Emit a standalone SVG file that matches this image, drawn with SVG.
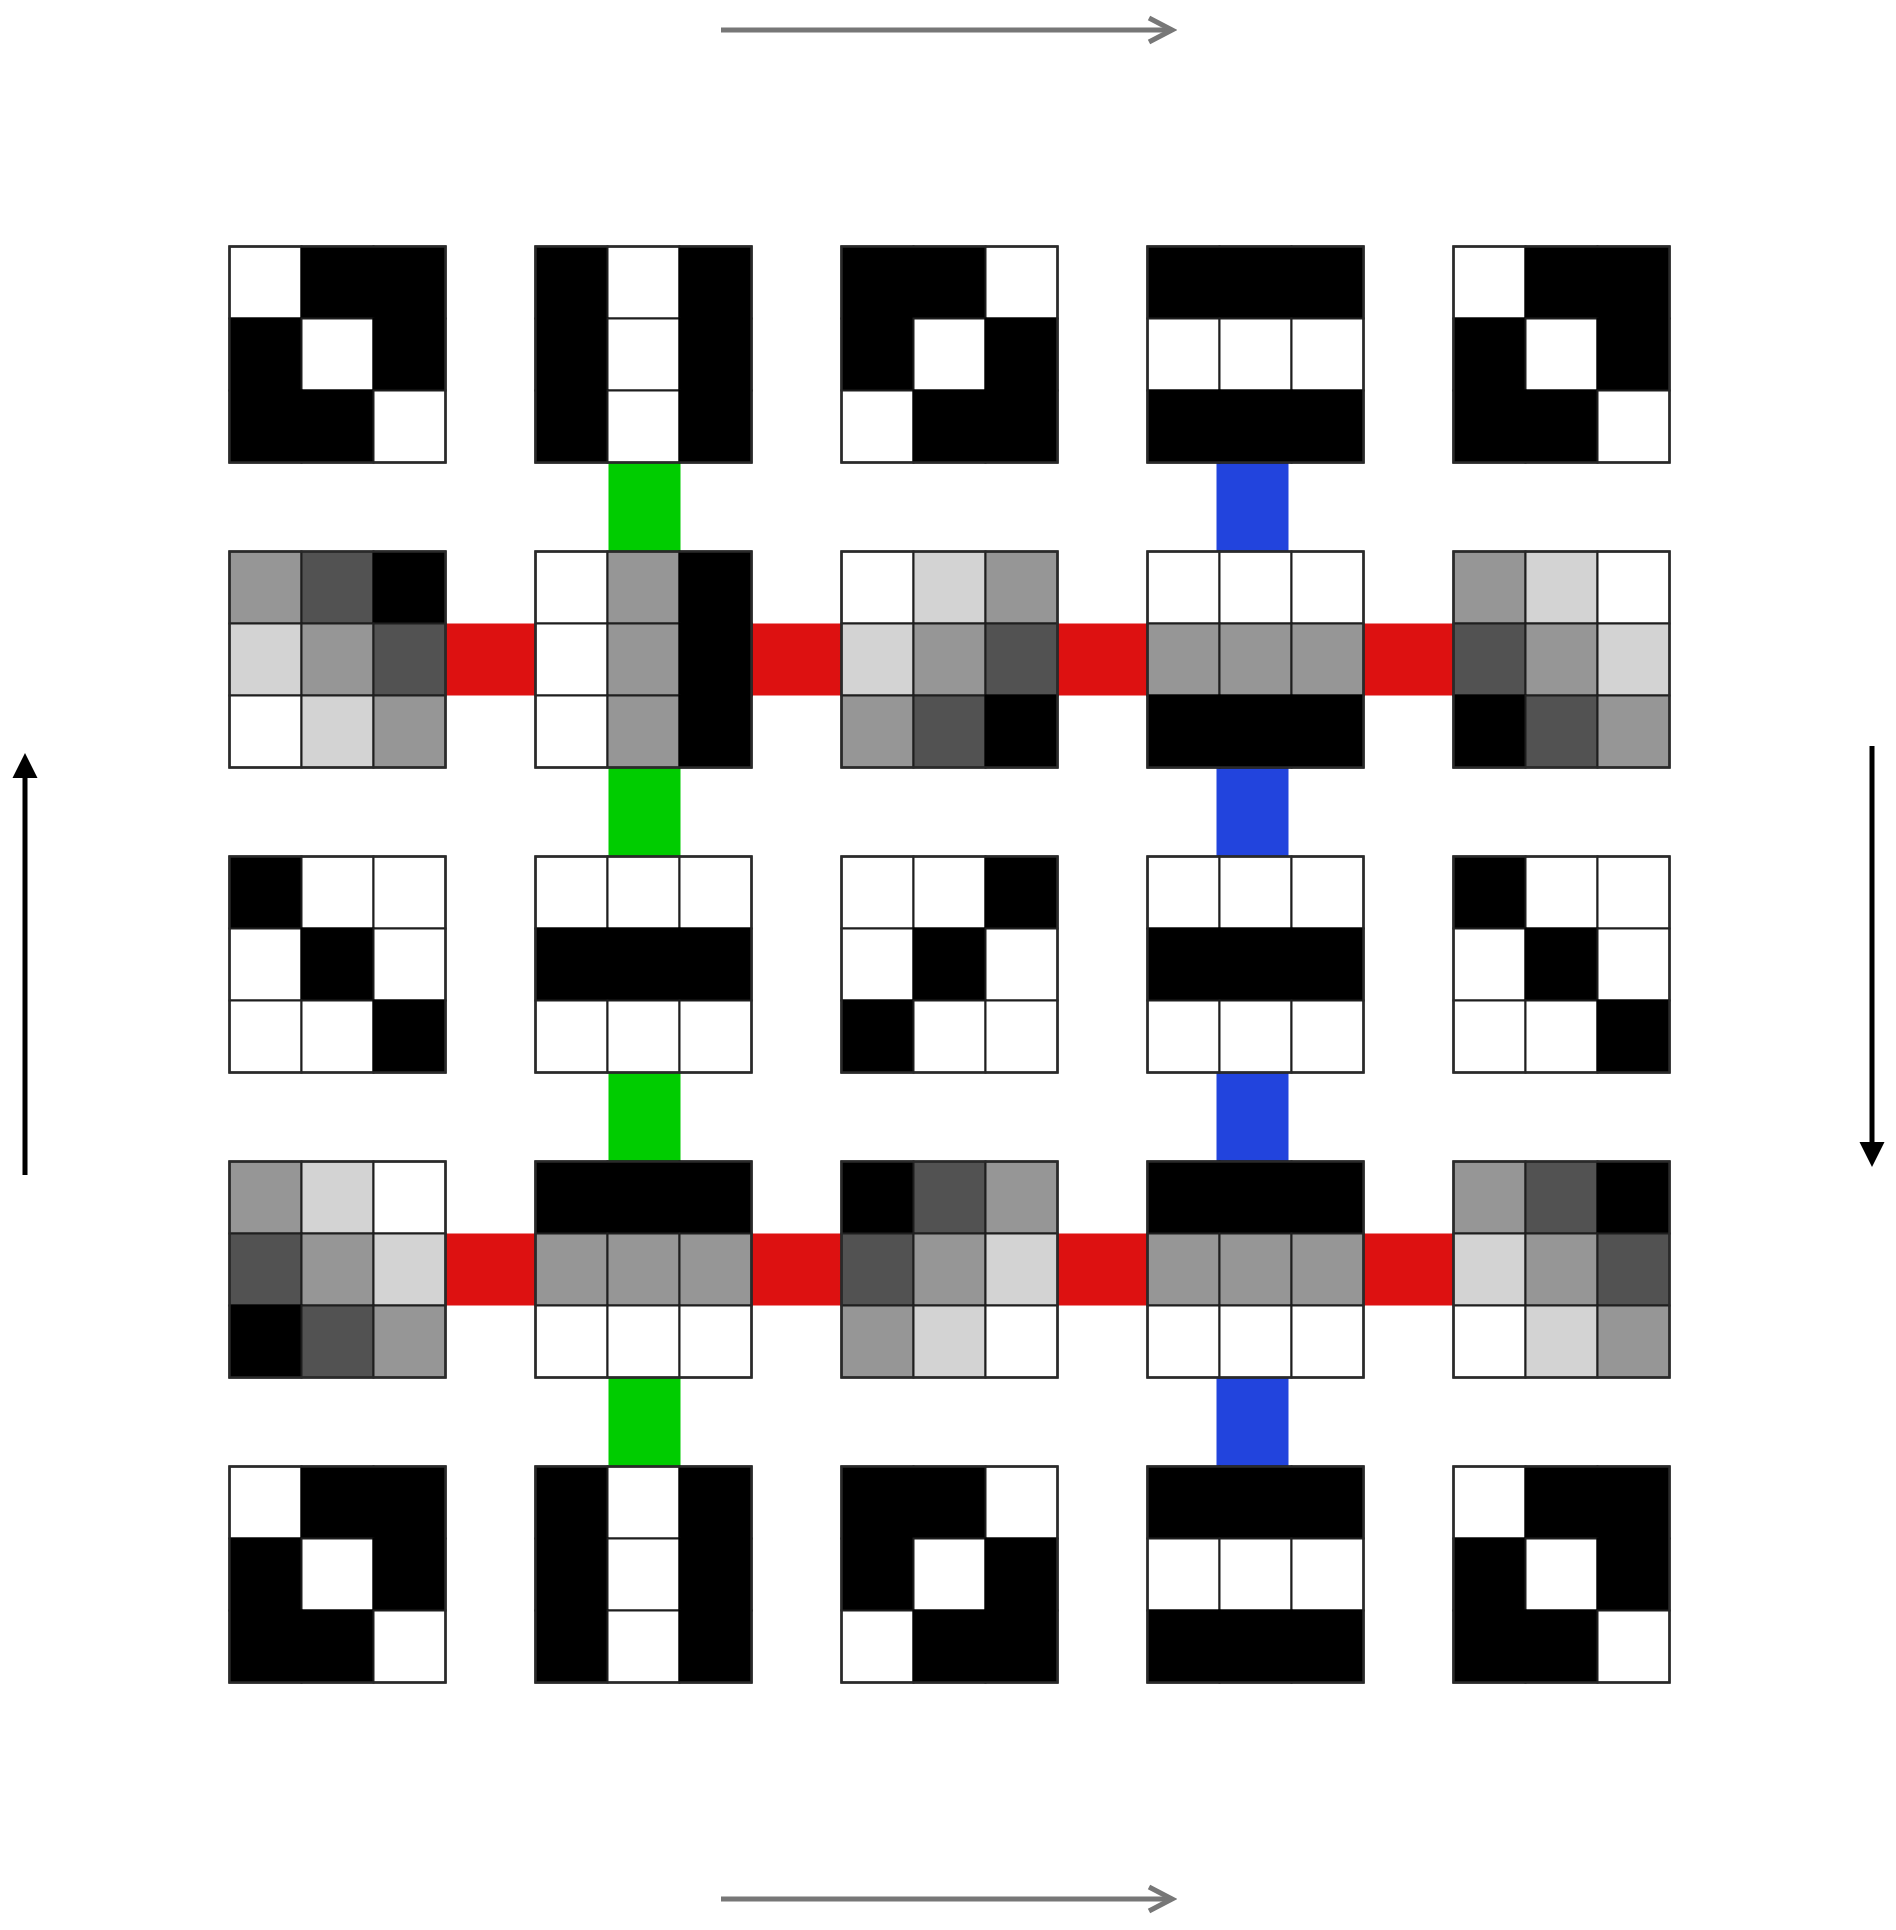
<svg xmlns="http://www.w3.org/2000/svg" xmlns:xlink="http://www.w3.org/1999/xlink" width="1896" height="1930" viewBox="0 0 1896 1930">
<style>
.c{stroke:#1e1e1e;stroke-width:2}
.k{fill:#000;stroke:#000}.w{fill:#fff}.d{fill:#525252}.m{fill:#969696}.l{fill:#d3d3d3}
.frame{fill:none;stroke:#2a2a2a;stroke-width:2.5}
.green{fill:#00cc00}.blue{fill:#2244dd}.red{fill:#dd1111}
.garrow{stroke:#777;stroke-width:5;fill:none}
.karrow{stroke:#000;stroke-width:5;fill:none}
</style>
<defs>
<marker id="chev" markerUnits="userSpaceOnUse" markerWidth="32" markerHeight="32" viewBox="0 0 32 32" refX="27" refY="16" orient="auto">
<path d="M4,4 L27,16 L4,28" fill="none" stroke="#777" stroke-width="5"/>
</marker>
<marker id="tri" markerUnits="userSpaceOnUse" markerWidth="25" markerHeight="26" viewBox="0 0 25 26" refX="0" refY="13" orient="auto">
<path d="M0,0.5 L25,13 L0,25.5 z" fill="#000"/>
</marker>
<g id="pA"><rect class="c w" x="0" y="0" width="72" height="72"/><rect class="c k" x="72" y="0" width="72" height="72"/><rect class="c k" x="144" y="0" width="72" height="72"/><rect class="c k" x="0" y="72" width="72" height="72"/><rect class="c w" x="72" y="72" width="72" height="72"/><rect class="c k" x="144" y="72" width="72" height="72"/><rect class="c k" x="0" y="144" width="72" height="72"/><rect class="c k" x="72" y="144" width="72" height="72"/><rect class="c w" x="144" y="144" width="72" height="72"/><rect class="frame" x="0" y="0" width="216" height="216"/></g>
<g id="pB"><rect class="c k" x="0" y="0" width="72" height="72"/><rect class="c w" x="72" y="0" width="72" height="72"/><rect class="c k" x="144" y="0" width="72" height="72"/><rect class="c k" x="0" y="72" width="72" height="72"/><rect class="c w" x="72" y="72" width="72" height="72"/><rect class="c k" x="144" y="72" width="72" height="72"/><rect class="c k" x="0" y="144" width="72" height="72"/><rect class="c w" x="72" y="144" width="72" height="72"/><rect class="c k" x="144" y="144" width="72" height="72"/><rect class="frame" x="0" y="0" width="216" height="216"/></g>
<g id="pC"><rect class="c k" x="0" y="0" width="72" height="72"/><rect class="c k" x="72" y="0" width="72" height="72"/><rect class="c w" x="144" y="0" width="72" height="72"/><rect class="c k" x="0" y="72" width="72" height="72"/><rect class="c w" x="72" y="72" width="72" height="72"/><rect class="c k" x="144" y="72" width="72" height="72"/><rect class="c w" x="0" y="144" width="72" height="72"/><rect class="c k" x="72" y="144" width="72" height="72"/><rect class="c k" x="144" y="144" width="72" height="72"/><rect class="frame" x="0" y="0" width="216" height="216"/></g>
<g id="pD"><rect class="c k" x="0" y="0" width="72" height="72"/><rect class="c k" x="72" y="0" width="72" height="72"/><rect class="c k" x="144" y="0" width="72" height="72"/><rect class="c w" x="0" y="72" width="72" height="72"/><rect class="c w" x="72" y="72" width="72" height="72"/><rect class="c w" x="144" y="72" width="72" height="72"/><rect class="c k" x="0" y="144" width="72" height="72"/><rect class="c k" x="72" y="144" width="72" height="72"/><rect class="c k" x="144" y="144" width="72" height="72"/><rect class="frame" x="0" y="0" width="216" height="216"/></g>
<g id="g1"><rect class="c m" x="0" y="0" width="72" height="72"/><rect class="c d" x="72" y="0" width="72" height="72"/><rect class="c k" x="144" y="0" width="72" height="72"/><rect class="c l" x="0" y="72" width="72" height="72"/><rect class="c m" x="72" y="72" width="72" height="72"/><rect class="c d" x="144" y="72" width="72" height="72"/><rect class="c w" x="0" y="144" width="72" height="72"/><rect class="c l" x="72" y="144" width="72" height="72"/><rect class="c m" x="144" y="144" width="72" height="72"/><rect class="frame" x="0" y="0" width="216" height="216"/></g>
<g id="g2"><rect class="c w" x="0" y="0" width="72" height="72"/><rect class="c m" x="72" y="0" width="72" height="72"/><rect class="c k" x="144" y="0" width="72" height="72"/><rect class="c w" x="0" y="72" width="72" height="72"/><rect class="c m" x="72" y="72" width="72" height="72"/><rect class="c k" x="144" y="72" width="72" height="72"/><rect class="c w" x="0" y="144" width="72" height="72"/><rect class="c m" x="72" y="144" width="72" height="72"/><rect class="c k" x="144" y="144" width="72" height="72"/><rect class="frame" x="0" y="0" width="216" height="216"/></g>
<g id="g3"><rect class="c w" x="0" y="0" width="72" height="72"/><rect class="c l" x="72" y="0" width="72" height="72"/><rect class="c m" x="144" y="0" width="72" height="72"/><rect class="c l" x="0" y="72" width="72" height="72"/><rect class="c m" x="72" y="72" width="72" height="72"/><rect class="c d" x="144" y="72" width="72" height="72"/><rect class="c m" x="0" y="144" width="72" height="72"/><rect class="c d" x="72" y="144" width="72" height="72"/><rect class="c k" x="144" y="144" width="72" height="72"/><rect class="frame" x="0" y="0" width="216" height="216"/></g>
<g id="g4"><rect class="c w" x="0" y="0" width="72" height="72"/><rect class="c w" x="72" y="0" width="72" height="72"/><rect class="c w" x="144" y="0" width="72" height="72"/><rect class="c m" x="0" y="72" width="72" height="72"/><rect class="c m" x="72" y="72" width="72" height="72"/><rect class="c m" x="144" y="72" width="72" height="72"/><rect class="c k" x="0" y="144" width="72" height="72"/><rect class="c k" x="72" y="144" width="72" height="72"/><rect class="c k" x="144" y="144" width="72" height="72"/><rect class="frame" x="0" y="0" width="216" height="216"/></g>
<g id="g5"><rect class="c m" x="0" y="0" width="72" height="72"/><rect class="c l" x="72" y="0" width="72" height="72"/><rect class="c w" x="144" y="0" width="72" height="72"/><rect class="c d" x="0" y="72" width="72" height="72"/><rect class="c m" x="72" y="72" width="72" height="72"/><rect class="c l" x="144" y="72" width="72" height="72"/><rect class="c k" x="0" y="144" width="72" height="72"/><rect class="c d" x="72" y="144" width="72" height="72"/><rect class="c m" x="144" y="144" width="72" height="72"/><rect class="frame" x="0" y="0" width="216" height="216"/></g>
<g id="g6"><rect class="c k" x="0" y="0" width="72" height="72"/><rect class="c k" x="72" y="0" width="72" height="72"/><rect class="c k" x="144" y="0" width="72" height="72"/><rect class="c m" x="0" y="72" width="72" height="72"/><rect class="c m" x="72" y="72" width="72" height="72"/><rect class="c m" x="144" y="72" width="72" height="72"/><rect class="c w" x="0" y="144" width="72" height="72"/><rect class="c w" x="72" y="144" width="72" height="72"/><rect class="c w" x="144" y="144" width="72" height="72"/><rect class="frame" x="0" y="0" width="216" height="216"/></g>
<g id="g7"><rect class="c k" x="0" y="0" width="72" height="72"/><rect class="c d" x="72" y="0" width="72" height="72"/><rect class="c m" x="144" y="0" width="72" height="72"/><rect class="c d" x="0" y="72" width="72" height="72"/><rect class="c m" x="72" y="72" width="72" height="72"/><rect class="c l" x="144" y="72" width="72" height="72"/><rect class="c m" x="0" y="144" width="72" height="72"/><rect class="c l" x="72" y="144" width="72" height="72"/><rect class="c w" x="144" y="144" width="72" height="72"/><rect class="frame" x="0" y="0" width="216" height="216"/></g>
<g id="pI"><rect class="c k" x="0" y="0" width="72" height="72"/><rect class="c w" x="72" y="0" width="72" height="72"/><rect class="c w" x="144" y="0" width="72" height="72"/><rect class="c w" x="0" y="72" width="72" height="72"/><rect class="c k" x="72" y="72" width="72" height="72"/><rect class="c w" x="144" y="72" width="72" height="72"/><rect class="c w" x="0" y="144" width="72" height="72"/><rect class="c w" x="72" y="144" width="72" height="72"/><rect class="c k" x="144" y="144" width="72" height="72"/><rect class="frame" x="0" y="0" width="216" height="216"/></g>
<g id="pH"><rect class="c w" x="0" y="0" width="72" height="72"/><rect class="c w" x="72" y="0" width="72" height="72"/><rect class="c w" x="144" y="0" width="72" height="72"/><rect class="c k" x="0" y="72" width="72" height="72"/><rect class="c k" x="72" y="72" width="72" height="72"/><rect class="c k" x="144" y="72" width="72" height="72"/><rect class="c w" x="0" y="144" width="72" height="72"/><rect class="c w" x="72" y="144" width="72" height="72"/><rect class="c w" x="144" y="144" width="72" height="72"/><rect class="frame" x="0" y="0" width="216" height="216"/></g>
<g id="pJ"><rect class="c w" x="0" y="0" width="72" height="72"/><rect class="c w" x="72" y="0" width="72" height="72"/><rect class="c k" x="144" y="0" width="72" height="72"/><rect class="c w" x="0" y="72" width="72" height="72"/><rect class="c k" x="72" y="72" width="72" height="72"/><rect class="c w" x="144" y="72" width="72" height="72"/><rect class="c k" x="0" y="144" width="72" height="72"/><rect class="c w" x="72" y="144" width="72" height="72"/><rect class="c w" x="144" y="144" width="72" height="72"/><rect class="frame" x="0" y="0" width="216" height="216"/></g>
</defs>
<rect x="0" y="0" width="1896" height="1930" fill="#fff"/>

<g id="connectors">
<rect class="green" x="608.5" y="462.5" width="72" height="90"/>
<rect class="green" x="608.5" y="767.5" width="72" height="90"/>
<rect class="green" x="608.5" y="1072.5" width="72" height="90"/>
<rect class="green" x="608.5" y="1377.5" width="72" height="90"/>
<rect class="blue" x="1216.5" y="462.5" width="72" height="90"/>
<rect class="blue" x="1216.5" y="767.5" width="72" height="90"/>
<rect class="blue" x="1216.5" y="1072.5" width="72" height="90"/>
<rect class="blue" x="1216.5" y="1377.5" width="72" height="90"/>
<rect class="red" x="445" y="623.5" width="92" height="72"/>
<rect class="red" x="751" y="623.5" width="92" height="72"/>
<rect class="red" x="1057" y="623.5" width="92" height="72"/>
<rect class="red" x="1363" y="623.5" width="92" height="72"/>
<rect class="red" x="445" y="1233.5" width="92" height="72"/>
<rect class="red" x="751" y="1233.5" width="92" height="72"/>
<rect class="red" x="1057" y="1233.5" width="92" height="72"/>
<rect class="red" x="1363" y="1233.5" width="92" height="72"/>
</g>

<g id="arrows">
<line class="garrow" x1="721" y1="30" x2="1172" y2="30" marker-end="url(#chev)"/>
<line class="garrow" x1="721" y1="1899" x2="1172" y2="1899" marker-end="url(#chev)"/>
<line class="karrow" x1="25" y1="1175" x2="25" y2="778" marker-end="url(#tri)"/>
<line class="karrow" x1="1872" y1="746" x2="1872" y2="1142" marker-end="url(#tri)"/>
</g>

<g id="tile-0-0" transform="translate(229.5,246.5)"><use xlink:href="#pA" href="#pA"/></g>
<g id="tile-0-1" transform="translate(535.5,246.5)"><use xlink:href="#pB" href="#pB"/></g>
<g id="tile-0-2" transform="translate(841.5,246.5)"><use xlink:href="#pC" href="#pC"/></g>
<g id="tile-0-3" transform="translate(1147.5,246.5)"><use xlink:href="#pD" href="#pD"/></g>
<g id="tile-0-4" transform="translate(1453.5,246.5)"><use xlink:href="#pA" href="#pA"/></g>

<g id="tile-1-0" transform="translate(229.5,551.5)"><use xlink:href="#g1" href="#g1"/></g>
<g id="tile-1-1" transform="translate(535.5,551.5)"><use xlink:href="#g2" href="#g2"/></g>
<g id="tile-1-2" transform="translate(841.5,551.5)"><use xlink:href="#g3" href="#g3"/></g>
<g id="tile-1-3" transform="translate(1147.5,551.5)"><use xlink:href="#g4" href="#g4"/></g>
<g id="tile-1-4" transform="translate(1453.5,551.5)"><use xlink:href="#g5" href="#g5"/></g>

<g id="tile-2-0" transform="translate(229.5,856.5)"><use xlink:href="#pI" href="#pI"/></g>
<g id="tile-2-1" transform="translate(535.5,856.5)"><use xlink:href="#pH" href="#pH"/></g>
<g id="tile-2-2" transform="translate(841.5,856.5)"><use xlink:href="#pJ" href="#pJ"/></g>
<g id="tile-2-3" transform="translate(1147.5,856.5)"><use xlink:href="#pH" href="#pH"/></g>
<g id="tile-2-4" transform="translate(1453.5,856.5)"><use xlink:href="#pI" href="#pI"/></g>

<g id="tile-3-0" transform="translate(229.5,1161.5)"><use xlink:href="#g5" href="#g5"/></g>
<g id="tile-3-1" transform="translate(535.5,1161.5)"><use xlink:href="#g6" href="#g6"/></g>
<g id="tile-3-2" transform="translate(841.5,1161.5)"><use xlink:href="#g7" href="#g7"/></g>
<g id="tile-3-3" transform="translate(1147.5,1161.5)"><use xlink:href="#g6" href="#g6"/></g>
<g id="tile-3-4" transform="translate(1453.5,1161.5)"><use xlink:href="#g1" href="#g1"/></g>

<g id="tile-4-0" transform="translate(229.5,1466.5)"><use xlink:href="#pA" href="#pA"/></g>
<g id="tile-4-1" transform="translate(535.5,1466.5)"><use xlink:href="#pB" href="#pB"/></g>
<g id="tile-4-2" transform="translate(841.5,1466.5)"><use xlink:href="#pC" href="#pC"/></g>
<g id="tile-4-3" transform="translate(1147.5,1466.5)"><use xlink:href="#pD" href="#pD"/></g>
<g id="tile-4-4" transform="translate(1453.5,1466.5)"><use xlink:href="#pA" href="#pA"/></g>
</svg>
